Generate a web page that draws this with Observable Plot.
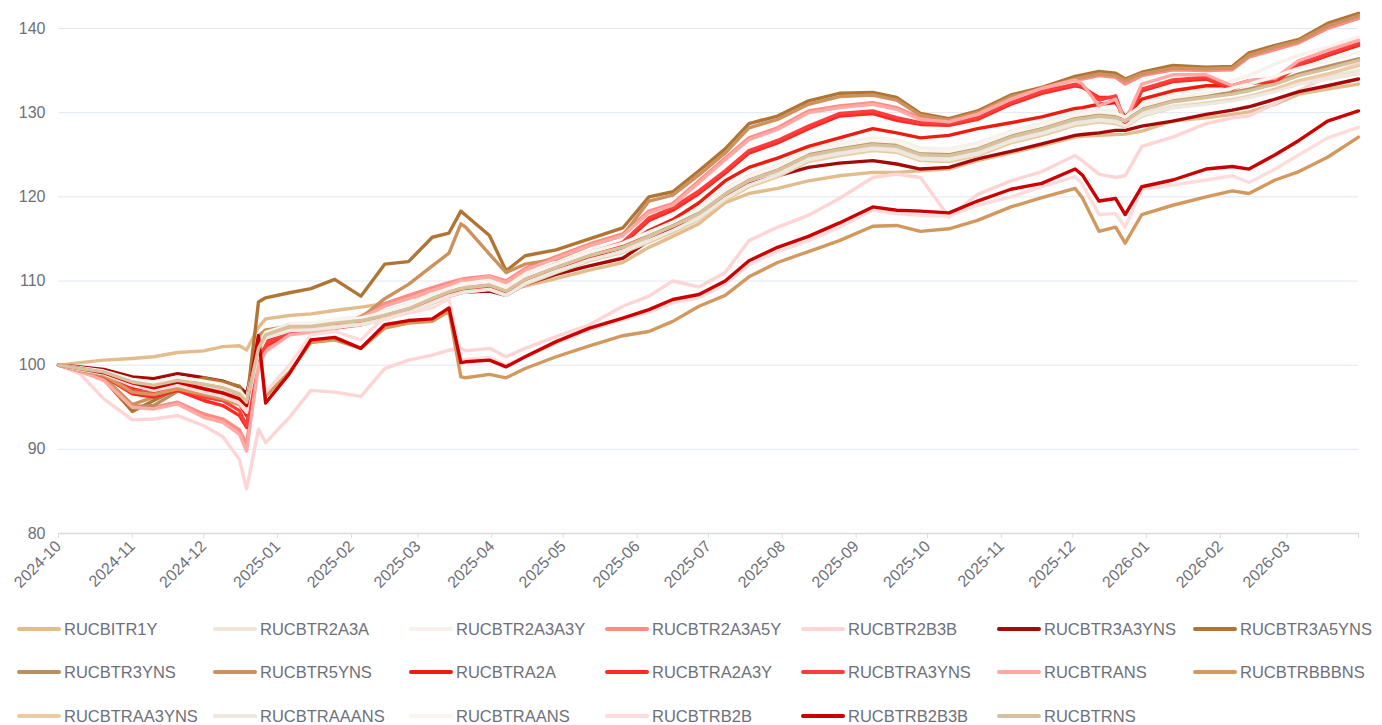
<!DOCTYPE html>
<html>
<head>
<meta charset="utf-8">
<script src="https://cdn.jsdelivr.net/npm/d3@7"></script>
<script src="https://cdn.jsdelivr.net/npm/@observablehq/plot@0.6"></script>
<style>
  html, body { margin: 0; padding: 0; background: #fff; overflow: hidden; }
  body { width: 1382px; height: 725px; position: relative; font-family: "Liberation Sans", Arial, sans-serif; }
  #chart { position: absolute; left: 0; top: 0; }
  #legend { position: absolute; left: 0; top: 0; width: 1382px; height: 725px; pointer-events: none; }
  .item { position: absolute; height: 20px; white-space: nowrap; }
  .sw { position: absolute; left: 0; top: 8px; width: 44px; height: 4px; border-radius: 2px; }
  .lb { position: absolute; left: 47px; top: 0; font-size: 16.5px; line-height: 20px; color: #6e7079; }
</style>
</head>
<body>
<div id="chart"></div>
<div id="legend"></div>
<script>
// ---- data ----
const dates = [
  "2024-10-01","2024-10-10","2024-10-20","2024-11-01","2024-11-10","2024-11-20","2024-12-01","2024-12-09","2024-12-16","2024-12-19","2024-12-24","2024-12-27",
  "2025-01-06","2025-01-15","2025-01-25","2025-02-05","2025-02-15","2025-02-25","2025-03-07","2025-03-14","2025-03-19","2025-03-21","2025-03-31",
  "2025-04-07","2025-04-15","2025-04-28","2025-05-12","2025-05-26","2025-06-06","2025-06-16","2025-06-27","2025-07-08","2025-07-18","2025-07-30",
  "2025-08-12","2025-08-25","2025-09-08","2025-09-18","2025-09-28","2025-10-10","2025-10-22","2025-11-05","2025-11-18","2025-12-02","2025-12-05",
  "2025-12-12","2025-12-19","2025-12-23","2025-12-30","2026-01-12","2026-01-26","2026-02-06","2026-02-13","2026-02-24","2026-03-06","2026-03-18","2026-03-31"
];

const seriesNames = ["RUCBITR1Y","RUCBTR2A3A","RUCBTR2A3A3Y","RUCBTR2A3A5Y","RUCBTR2B3B","RUCBTR3A3YNS","RUCBTR3A5YNS",
  "RUCBTR3YNS","RUCBTR5YNS","RUCBTRA2A","RUCBTRA2A3Y","RUCBTRA3YNS","RUCBTRANS","RUCBTRBBBNS",
  "RUCBTRAA3YNS","RUCBTRAAANS","RUCBTRAANS","RUCBTRB2B","RUCBTRB2B3B","RUCBTRNS"];

const seriesColors = ["#e3bc8e","#ece5d8","#f6f1ea","#ff8c84","#ffd4d4","#a30a0a","#b07535",
  "#b8905f","#cd915d","#ee1c0e","#ff2b22","#ff3d3d","#ffa8a4","#d3985e",
  "#eccba3","#ede8e0","#f8f4ee","#ffdcdc","#cc0000","#d6c09e"];

const v_RUCBITR1Y = [100,100.3,100.6,100.8,101.0,101.5,101.7,102.2,102.3,101.8,104.5,105.5,
  105.9,106.1,106.5,106.9,107.3,108.0,108.4,108.7,108.9,109.0,109.2,
  108.9,109.4,110.3,111.3,112.2,114.0,115.3,116.8,119.3,120.4,121.0,
  121.9,122.5,122.9,122.9,123.1,123.3,124.3,125.2,126.1,127.1,127.2,
  127.3,127.4,127.45,127.8,129.0,129.4,129.8,130.1,131.0,132.2,132.8,133.4];
const v_RUCBTR2A3A = [100,99.5,99.0,97.8,97.4,97.9,97.3,96.9,96.2,95.3,101.8,103.4,
  104.3,104.4,104.7,105.0,105.6,106.4,107.6,108.4,108.8,108.9,109.2,
  108.5,109.9,111.3,112.7,113.7,115.0,116.2,117.7,120.0,121.6,122.8,
  124.6,125.3,125.9,125.7,124.7,124.6,125.3,126.8,127.7,128.9,129.0,
  129.3,129.1,128.6,129.9,130.8,131.2,131.6,132.0,132.7,133.6,134.3,135.0];
const v_RUCBTR2A3A3Y = [100,99.7,99.4,98.5,98.2,98.8,98.3,97.9,97.2,96.2,102.6,104.0,
  104.9,105.0,105.4,105.8,106.5,107.3,108.5,109.3,109.7,109.8,110.1,
  109.3,110.8,112.2,113.6,114.7,116.0,117.2,118.8,121.0,122.6,123.8,
  125.6,126.4,127.0,126.8,125.8,125.7,126.4,127.8,128.8,130.0,130.1,
  130.4,130.2,129.8,131.2,132.3,132.8,133.8,134.4,135.8,136.8,137.8,139.0];
const v_RUCBTR2A3A5Y = [100,99.4,98.4,95.2,95.0,95.6,94.2,93.6,92.3,90.6,100.5,102.0,
  103.8,104.0,104.3,105.8,107.3,108.3,109.2,109.8,110.2,110.3,110.6,
  110.0,111.5,112.9,114.4,115.6,118.3,119.2,121.9,124.6,127.0,128.2,
  130.2,130.8,131.2,130.6,129.4,129.0,129.9,131.8,132.9,134.0,134.0,
  134.4,134.2,133.4,134.4,135.1,135.0,135.1,136.6,137.5,138.3,140.0,141.2];
const v_RUCBTR2B3B = [100,99.0,96.0,93.5,93.6,94.0,92.8,91.5,88.8,85.3,92.4,90.8,
  93.8,97.0,96.8,96.3,99.6,100.6,101.2,101.8,102.0,101.7,102.0,
  101.0,102.0,103.4,104.8,107.0,108.2,110.0,109.3,111.0,114.8,116.4,
  117.8,119.8,122.3,122.7,122.3,117.6,120.3,121.9,123.0,124.9,124.3,
  122.7,122.3,122.5,126.0,127.1,128.7,129.4,129.6,131.1,132.6,134.4,135.9];
const v_RUCBTR3A3YNS = [100,99.8,99.5,98.6,98.4,99.0,98.5,98.1,97.4,96.6,102.3,103.9,
  104.6,104.7,104.9,105.1,105.6,106.3,107.4,108.2,108.6,108.7,108.8,
  108.3,109.6,110.8,111.8,112.7,114.8,116.2,117.4,119.9,121.5,122.5,
  123.5,124.0,124.3,123.9,123.3,123.5,124.5,125.4,126.3,127.3,127.4,
  127.6,127.9,127.9,128.4,129.0,129.8,130.3,130.7,131.6,132.5,133.2,134.0];
const v_RUCBTR3A5YNS = [100,99.3,98.3,94.5,95.8,97.2,98.5,98.0,97.5,95.5,107.5,108.0,
  108.6,109.1,110.2,108.2,112.0,112.3,115.2,115.7,118.3,117.8,115.4,
  111.2,113.0,113.7,115.0,116.3,120.0,120.6,123.1,125.7,128.7,129.6,
  131.4,132.3,132.4,131.8,129.9,129.3,130.2,132.1,133.0,134.3,134.5,
  134.9,134.7,134.0,134.8,135.6,135.4,135.5,137.1,138.0,138.7,140.6,141.8];
const v_RUCBTR3YNS = [100,99.3,98.4,95.0,95.2,96.9,97.2,96.8,96.2,95.2,102.6,103.8,
  104.8,104.8,105.2,105.5,106.1,106.9,108.1,108.9,109.3,109.4,109.7,
  108.9,110.4,111.8,113.2,114.3,115.7,116.8,118.4,120.7,122.3,123.5,
  125.2,125.9,126.5,126.3,125.3,125.1,125.8,127.3,128.3,129.4,129.5,
  129.8,129.6,129.2,130.5,131.5,132.0,132.4,132.8,133.6,134.6,135.5,136.4];
const v_RUCBTR5YNS = [100,99.5,98.6,95.3,96.2,97.4,98.0,97.5,97.0,95.3,103.5,104.2,
  104.6,104.7,105.0,105.6,107.9,109.6,111.8,113.3,116.8,116.4,113.2,
  111.0,112.0,112.6,114.2,115.4,119.5,120.2,122.6,125.2,128.2,129.2,
  131.0,131.9,132.1,131.5,129.7,129.1,130.0,131.9,132.8,134.0,134.2,
  134.6,134.4,133.8,134.6,135.3,135.2,135.3,136.8,137.8,138.5,140.3,141.5];
const v_RUCBTRA2A = [100,99.5,99.0,97.4,97.0,97.8,96.8,96.4,95.4,94.0,101.5,103.0,
  104.2,104.3,104.7,105.1,105.7,106.5,107.6,108.3,108.8,108.9,109.4,
  108.7,110.2,111.6,112.8,114.0,116.0,117.3,119.3,121.9,123.5,124.6,
  126.0,127.0,128.1,127.6,127.0,127.3,128.1,128.8,129.5,130.5,130.6,
  131.0,131.2,129.5,131.6,132.6,133.2,133.2,133.8,134.0,135.6,136.8,138.0];
const v_RUCBTRA2A3Y = [100,99.4,98.7,96.6,96.2,97.0,95.8,95.2,94.0,92.6,100.8,102.3,
  103.8,104.0,104.4,104.8,105.5,106.3,107.5,108.2,108.7,108.8,109.4,
  108.7,110.3,111.8,113.1,114.4,117.2,118.4,120.4,122.8,125.2,126.4,
  128.1,129.6,129.9,129.1,128.6,128.5,129.2,131.0,132.3,133.2,133.0,
  131.8,131.8,128.5,132.6,133.7,134.0,132.8,133.5,133.7,135.6,136.8,138.1];
const v_RUCBTRA3YNS = [100,99.4,98.8,97.0,96.6,97.4,96.2,95.8,94.6,92.8,101.0,102.5,
  104.0,104.2,104.6,105.0,105.7,106.5,107.7,108.4,108.9,109.0,109.6,
  108.9,110.5,112.0,113.3,114.6,117.5,118.7,120.7,123.1,125.5,126.7,
  128.4,129.9,130.2,129.4,128.8,128.7,129.4,131.2,132.5,133.4,133.2,
  131.5,132.0,128.8,132.8,133.9,134.2,133.0,133.7,133.9,135.8,137.0,138.3];
const v_RUCBTRANS = [100,99.3,98.2,95.0,94.8,95.4,93.8,93.2,91.8,89.8,100.0,101.6,
  103.6,103.9,104.2,105.6,107.0,107.9,108.9,109.5,110.1,110.1,110.5,
  109.8,111.3,112.7,114.2,115.4,118.1,119.0,121.7,124.4,126.8,128.0,
  130.0,130.6,131.0,130.4,129.2,128.9,129.8,131.6,132.9,133.9,133.4,
  130.8,131.6,129.0,133.4,134.5,134.5,133.2,133.8,134.1,136.2,137.4,138.6];
const v_RUCBTRBBBNS = [100,99.4,98.8,96.8,96.5,97.2,96.5,96.0,95.3,94.5,103.0,96.3,
  99.2,102.7,103.0,102.0,104.4,105.0,105.2,106.4,98.6,98.5,98.9,
  98.5,99.6,101.0,102.3,103.5,104.0,105.2,107.0,108.3,110.5,112.2,
  113.5,114.8,116.5,116.6,115.9,116.2,117.2,118.8,119.9,121.0,119.9,
  115.9,116.4,114.5,117.9,119.0,120.0,120.7,120.4,122.0,123.0,124.7,127.1];
const v_RUCBTRAA3YNS = [100,99.6,99.2,97.8,97.3,97.8,97.2,96.8,96.1,95.2,101.6,103.2,
  104.2,104.3,104.6,104.9,105.5,106.3,107.4,108.2,108.6,108.7,109.0,
  108.3,109.6,111.0,112.4,113.4,114.6,115.8,117.3,119.6,121.2,122.4,
  124.2,124.9,125.5,125.3,124.3,124.2,124.9,126.4,127.3,128.5,128.6,
  128.9,128.7,128.3,129.6,130.6,131.1,131.5,131.9,132.8,133.8,134.6,135.6];
const v_RUCBTRAAANS = [100,99.5,99.0,97.7,97.3,97.8,97.2,96.8,96.0,95.1,101.6,103.2,
  104.1,104.2,104.5,104.8,105.4,106.2,107.4,108.2,108.6,108.7,109.0,
  108.3,109.7,111.1,112.5,113.5,114.8,116.0,117.5,119.8,121.4,122.6,
  124.4,125.1,125.7,125.5,124.5,124.4,125.1,126.6,127.5,128.7,128.8,
  129.1,128.9,128.4,129.7,130.6,131.0,131.4,131.8,132.5,133.4,134.0,134.6];
const v_RUCBTRAANS = [100,99.7,99.3,98.3,98.0,98.6,98.1,97.7,97.0,96.0,102.4,103.9,
  104.8,104.9,105.3,105.6,106.3,107.1,108.3,109.1,109.5,109.6,109.9,
  109.1,110.6,112.0,113.4,114.5,115.8,117.0,118.5,120.8,122.4,123.6,
  125.4,126.1,126.7,126.5,125.5,125.4,126.1,127.6,128.5,129.7,129.8,
  130.1,129.9,129.5,130.8,131.8,132.3,132.9,133.4,134.3,135.3,136.2,137.2];
const v_RUCBTRB2B = [100,99.5,99.0,97.6,97.0,97.6,96.8,96.3,95.5,94.4,102.8,96.8,
  100.0,103.6,104.0,103.0,105.8,106.2,106.8,107.9,100.6,100.7,100.9,
  100.0,101.0,102.6,104.2,105.4,106.3,107.4,108.0,109.6,111.9,113.5,
  114.8,116.4,118.4,118.0,117.8,117.7,119.0,120.0,121.2,122.4,121.5,
  117.9,118.0,116.4,120.9,121.4,122.0,122.5,121.7,123.3,125.0,127.0,128.25];
const v_RUCBTRB2B3B = [100,99.6,99.1,97.9,97.3,98.0,97.2,96.7,96.0,95.2,103.5,95.5,
  99.0,103.0,103.3,102.0,104.8,105.3,105.5,106.8,100.3,100.4,100.6,
  99.8,101.0,102.8,104.4,105.6,106.6,107.8,108.4,110.0,112.4,114.0,
  115.3,116.9,118.8,118.4,118.3,118.1,119.5,120.9,121.6,123.3,122.6,
  119.5,119.8,117.9,121.2,122.0,123.3,123.6,123.3,125.0,126.7,129.0,130.2];
const v_RUCBTRNS = [100,99.6,99.2,98.0,97.6,98.2,97.7,97.3,96.6,95.6,102.0,103.6,
  104.6,104.6,105.0,105.3,105.9,106.7,107.9,108.7,109.1,109.2,109.5,
  108.8,110.2,111.6,113.0,114.0,115.3,116.5,118.0,120.3,121.9,123.1,
  124.9,125.6,126.2,126.0,125.0,124.9,125.6,127.1,128.0,129.2,129.3,
  129.6,129.4,129.0,130.3,131.3,131.8,132.2,132.6,133.4,134.4,135.2,136.2];

const seriesValues = [v_RUCBITR1Y,v_RUCBTR2A3A,v_RUCBTR2A3A3Y,v_RUCBTR2A3A5Y,v_RUCBTR2B3B,v_RUCBTR3A3YNS,v_RUCBTR3A5YNS,
  v_RUCBTR3YNS,v_RUCBTR5YNS,v_RUCBTRA2A,v_RUCBTRA2A3Y,v_RUCBTRA3YNS,v_RUCBTRANS,v_RUCBTRBBBNS,
  v_RUCBTRAA3YNS,v_RUCBTRAAANS,v_RUCBTRAANS,v_RUCBTRB2B,v_RUCBTRB2B3B,v_RUCBTRNS];

const yTicks = [80, 90, 100, 110, 120, 130, 140];
const monthTicks = ["2024-10-01","2024-11-01","2024-12-01","2025-01-01","2025-02-01","2025-03-01","2025-04-01",
  "2025-05-01","2025-06-01","2025-07-01","2025-08-01","2025-09-01","2025-10-01","2025-11-01","2025-12-01",
  "2026-01-01","2026-02-01","2026-03-01"];

// ---- build ----
const rows = [];
seriesNames.forEach((name, si) => {
  seriesValues[si].forEach((v, i) => rows.push({series: name, date: new Date(dates[i]), value: v}));
});
const xStart = new Date(dates[0]);
const xEnd = new Date(dates[dates.length - 1]);
const xTickDates = monthTicks.map(d => new Date(d)).concat([xEnd]);
const fmt = d3.utcFormat("%Y-%m");
const font = '"Liberation Sans", Arial, sans-serif';

const chart = Plot.plot({
  width: 1382,
  height: 610,
  marginLeft: 58,
  marginRight: 24,
  marginTop: 28,
  marginBottom: 77,
  style: {fontFamily: font, fontSize: "16px", color: "#6e7079", background: "#fff", overflow: "visible"},
  x: {type: "utc", domain: [xStart, xEnd]},
  y: {domain: [yTicks[0], yTicks[yTicks.length - 1]]},
  color: {domain: seriesNames, range: seriesColors},
  marks: [
    Plot.gridY(yTicks.slice(1), {stroke: "#e0e6f1", strokeOpacity: 1, strokeWidth: 1}),
    Plot.ruleY([yTicks[0]], {stroke: "#dcdcdc", strokeWidth: 1.5}),
    Plot.axisY(yTicks, {tickSize: 0, tickPadding: 13, label: null, fill: "#6e7079", fontSize: 16}),
    Plot.axisX(xTickDates, {
      tickSize: 5, tickPadding: 5, tickRotate: -45, label: null,
      stroke: "#dcdcdc", fill: "#6e7079", fontSize: 16,
      tickFormat: d => (+d === +xEnd ? "" : fmt(d))
    }),
    Plot.line(rows, {
      x: "date", y: "value", z: "series", stroke: "series",
      strokeWidth: 3.4, strokeLinejoin: "round", strokeLinecap: "round", curve: "linear"
    })
  ]
});
document.getElementById("chart").appendChild(chart);

// ---- legend (ECharts-style, 7 per row) ----
const legend = document.getElementById("legend");
const perRow = 7, colW = 196, left0 = 17, rowTop0 = 619, rowH = 43.4;
seriesNames.forEach((name, i) => {
  const r = Math.floor(i / perRow), c = i % perRow;
  const item = document.createElement("div");
  item.className = "item";
  item.style.left = (left0 + c * colW) + "px";
  item.style.top = (rowTop0 + r * rowH) + "px";
  const sw = document.createElement("div");
  sw.className = "sw";
  sw.style.background = seriesColors[i];
  const lb = document.createElement("div");
  lb.className = "lb";
  lb.textContent = name;
  item.appendChild(sw);
  item.appendChild(lb);
  legend.appendChild(item);
});
</script>
</body>
</html>
